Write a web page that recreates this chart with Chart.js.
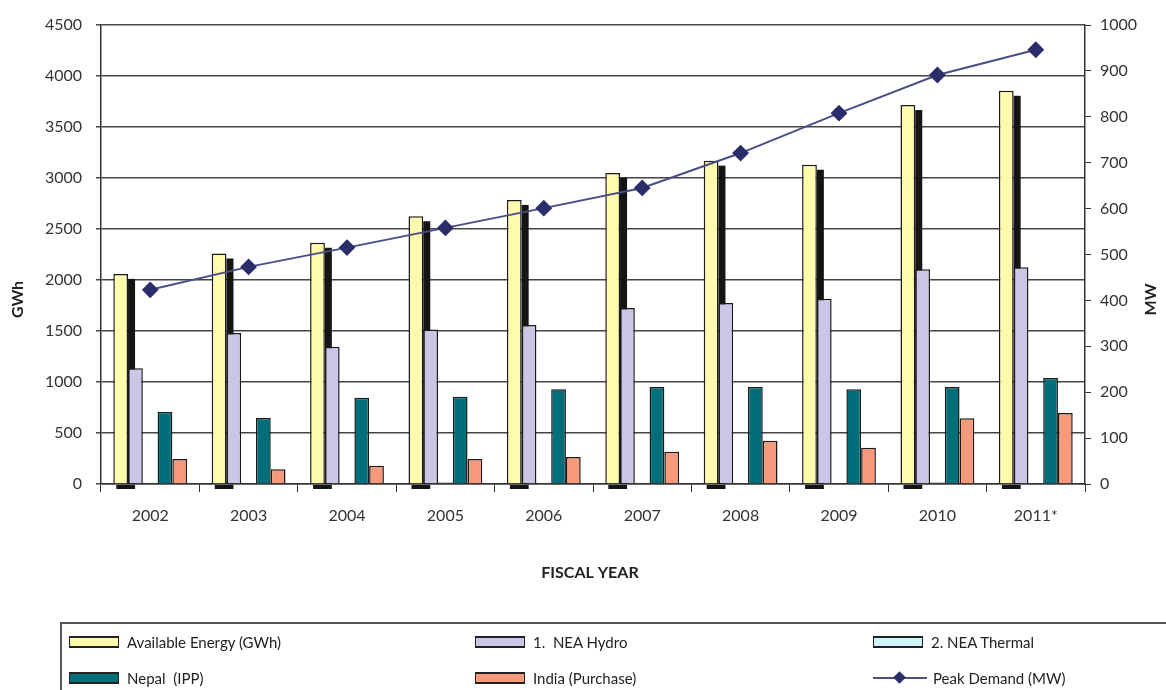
<!DOCTYPE html>
<html lang="en">
<head>
<meta charset="UTF-8">
<title>Energy Balance by Fiscal Year</title>
<script src="https://cdn.jsdelivr.net/npm/chart.js"></script>
<style>
  body { margin: 0; background: #fff; font-family: Lato, "Open Sans", sans-serif; }
  #wrap { position: relative; width: 1166px; height: 690px; overflow: hidden; }
  #legend { position: absolute; left: 60px; top: 622px; width: 1130px; height: 90px;
            border: 2px solid #555; box-sizing: border-box; }
  .item { position: absolute; display: flex; align-items: center; font-size: 15px; color: #222; white-space: pre; }
  .sw { width: 50px; height: 12px; border: 1px solid #222; border-width: 2px 1px; margin-right: 8px; box-sizing: border-box; }
  .ln { position: relative; width: 54px; height: 12px; margin-right: 6px; }
  .ln .bar { position: absolute; left: 0; right: 0; top: 5px; height: 2px; background: #4A4E85; }
  .ln .dia { position: absolute; left: 22px; top: 1px; width: 9px; height: 9px; background: #2B2D6B; transform: rotate(45deg); }
</style>
</head>
<body>

<div id="wrap">
  <canvas id="energyChart" width="1166" height="690"></canvas>
  <div id="legend"></div>
</div>

<script>
const years = ['2002', '2003', '2004', '2005', '2006', '2007', '2008', '2009', '2010', '2011*'];
const availableEnergy = [2060, 2260, 2365, 2625, 2785, 3050, 3170, 3130, 3715, 3855];
const neaHydro = [1135, 1480, 1345, 1515, 1560, 1725, 1775, 1815, 2105, 2125];
const neaThermal = [12, 0, 0, 14, 12, 12, 0, 0, 14, 0];
const nepalIpp = [705, 648, 845, 855, 930, 950, 950, 930, 950, 1040];
const indiaPurchase = [245, 145, 178, 245, 265, 315, 425, 355, 645, 695];
const peakDemand = [423, 473, 515, 558, 601, 645, 721, 808, 891, 946];

const tickFont = { family: 'Lato', size: 16 };
const axisColor = '#333';
const plainNumber = v => String(v);

// dark "depth" shadow behind the available energy bars
const barShadow = {
  id: 'barShadow',
  beforeDatasetsDraw(chart) {
    const ctx = chart.ctx;
    const base = chart.scales.y.getPixelForValue(0);
    ctx.save();
    ctx.fillStyle = '#151515';
    chart.getDatasetMeta(0).data.forEach(bar => {
      const right = bar.x + bar.width / 2;
      ctx.fillRect(right, bar.y + 5, 7, base - bar.y - 5);
      ctx.fillRect(bar.x - bar.width / 2 + 3, base + 1, bar.width + 4, 4);
    });
    ctx.restore();
  }
};

const axisTitles = {
  id: 'axisTitles',
  afterDraw(chart) {
    const ctx = chart.ctx;
    const mid = (chart.chartArea.top + chart.chartArea.bottom) / 2;
    ctx.save();
    ctx.fillStyle = '#222';
    ctx.font = 'bold 16px Lato';
    ctx.textAlign = 'center';
    ctx.textBaseline = 'middle';
    ctx.fillText('FISCAL YEAR', 590, 573);
    [['GWh', 18], ['MW', 1151]].forEach(([txt, x]) => {
      ctx.save();
      ctx.translate(x, mid + 45);
      ctx.rotate(-Math.PI / 2);
      ctx.fillText(txt, 0, 0);
      ctx.restore();
    });
    ctx.restore();
  }
};

const barDefaults = { type: 'bar', yAxisID: 'y', borderColor: '#1a1a1a', borderWidth: 1.5, order: 1,
                      categoryPercentage: 0.75, barPercentage: 1.0 };

const chart = new Chart(document.getElementById('energyChart'), {
  data: {
    labels: years,
    datasets: [
      { ...barDefaults, label: 'Available Energy (GWh)', data: availableEnergy, backgroundColor: '#FFFBAE' },
      { ...barDefaults, label: '1.  NEA Hydro', data: neaHydro, backgroundColor: '#C9C6E6' },
      { ...barDefaults, label: '2. NEA Thermal', data: neaThermal, backgroundColor: '#CDF6FB' },
      { ...barDefaults, label: 'Nepal  (IPP)', data: nepalIpp, backgroundColor: '#006F79' },
      { ...barDefaults, label: 'India (Purchase)', data: indiaPurchase, backgroundColor: '#F79A7B' },
      { type: 'line', label: 'Peak Demand (MW)', data: peakDemand, yAxisID: 'y1', order: 0,
        borderColor: '#4A4E85', borderWidth: 2, pointStyle: 'rectRot', pointRadius: 7,
        pointBackgroundColor: '#2B2D6B', pointBorderColor: '#2B2D6B', tension: 0 }
    ]
  },
  options: {
    responsive: false,
    devicePixelRatio: 1,
    animation: false,
    layout: { padding: { top: 25, left: 0, right: 0, bottom: 0 } },
    plugins: { legend: { display: false }, tooltip: { enabled: false } },
    scales: {
      x: {
        grid: { offset: true, drawOnChartArea: false, tickLength: 8, color: axisColor },
        border: { color: axisColor, width: 1.5 },
        ticks: { font: tickFont, color: axisColor, padding: 14 },
        afterFit: s => { s.height = 206; }
      },
      y: {
        position: 'left', min: 0, max: 4500,
        ticks: { stepSize: 500, font: tickFont, color: axisColor, padding: 14, callback: plainNumber },
        grid: { color: '#444', lineWidth: 1.5, tickLength: 5 },
        border: { color: axisColor, width: 1.5 },
        afterFit: s => { s.width = 101; }
      },
      y1: {
        position: 'right', min: 0, max: 1000,
        ticks: { stepSize: 100, font: tickFont, color: axisColor, padding: 9, callback: plainNumber },
        grid: { drawOnChartArea: false, tickLength: 6, color: axisColor },
        border: { color: axisColor, width: 1.5 },
        afterFit: s => { s.width = 81; }
      }
    }
  },
  plugins: [barShadow, axisTitles]
});

// html legend, three columns like the original
const legendEl = document.getElementById('legend');
const colX = [7, 413, 811];
const rowY = [9, 45];
chart.data.datasets.forEach((ds, i) => {
  const item = document.createElement('div');
  item.className = 'item';
  item.style.left = colX[i % 3] + 'px';
  item.style.top = rowY[Math.floor(i / 3)] + 'px';
  if (ds.type === 'line') {
    item.innerHTML = '<div class="ln"><div class="bar"></div><div class="dia"></div></div>';
  } else {
    item.innerHTML = '<div class="sw" style="background:' + ds.backgroundColor + '"></div>';
  }
  const span = document.createElement('span');
  span.textContent = ds.label;
  item.appendChild(span);
  legendEl.appendChild(item);
});
</script>
</body>
</html>
